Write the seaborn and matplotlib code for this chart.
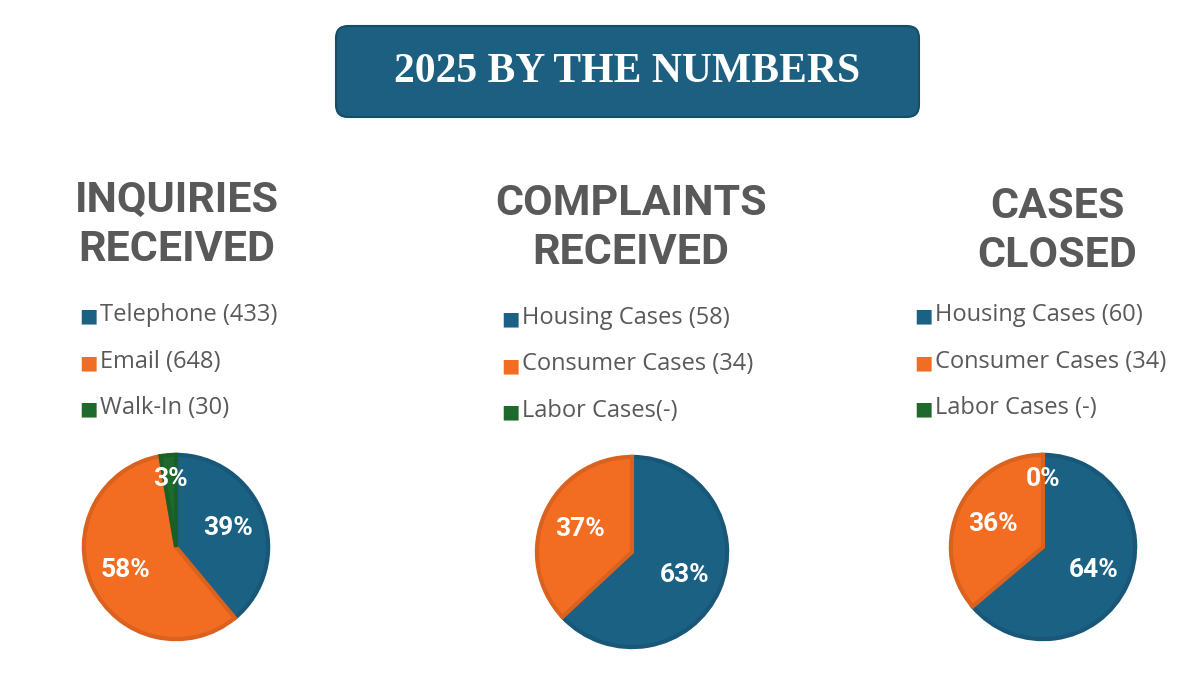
import seaborn as sns
import matplotlib.pyplot as plt
from matplotlib.patches import FancyBboxPatch
from matplotlib.colors import to_rgb

# data
banner = "2025 BY THE NUMBERS"
titles = ["INQUIRIES\nRECEIVED", "COMPLAINTS\nRECEIVED", "CASES\nCLOSED"]
inquiry_labels = ["Telephone (433)", "Email (648)", "Walk-In (30)"]
inquiry_counts = [433, 648, 30]
complaint_labels = ["Housing Cases (58)", "Consumer Cases (34)", "Labor Cases(-)"]
complaint_counts = [58, 34, None]
closed_labels = ["Housing Cases (60)", "Consumer Cases (34)", "Labor Cases (-)"]
closed_counts = [60, 34, 0]

colors = ["#1b6184", "#f26d21", "#1e6a2c"]
box_color = "#1d5f80"
gray = "#595959"

sns.set_theme(style="white")
plt.rcParams['font.family'] = ['Roboto', 'DejaVu Sans']

W, H = 1200, 675
fig = plt.figure(figsize=(12, 6.75), dpi=100)
bg = fig.add_axes([0, 0, 1, 1])
bg.set_xlim(0, W)
bg.set_ylim(H, 0)
bg.axis("off")

# banner
box = FancyBboxPatch((336, 26), 583, 91, boxstyle="round,pad=0,rounding_size=12",
                     facecolor=box_color, edgecolor="#164c66", linewidth=1.5)
bg.add_patch(box)
bg.text(627, 72, banner, ha="center", va="center", color="white", fontsize=30,
        fontweight="bold", family=["Liberation Serif", "DejaVu Serif"])

def darker(c, f=0.9):
    r, g, b = to_rgb(c)
    return (r * f, g * f, b * f)

panels = [
    dict(title=titles[0], tx=177, ty=225, labels=inquiry_labels, counts=inquiry_counts,
         lx=82, ly=315, cx=176, cy=547, r=94),
    dict(title=titles[1], tx=631, ty=228, labels=complaint_labels, counts=complaint_counts,
         lx=504, ly=318, cx=632, cy=552, r=97),
    dict(title=titles[2], tx=1057, ty=231, labels=closed_labels, counts=closed_counts,
         lx=917, ly=315, cx=1043, cy=547, r=94),
]

for p in panels:
    bg.text(p["tx"], p["ty"], p["title"], ha="center", va="center", color=gray,
            fontsize=31, fontweight="bold", linespacing=1.24)
    for i, lab in enumerate(p["labels"]):
        y = p["ly"] + i * 46.5
        bg.text(p["lx"] + 6, y + 1, "\u25a0", ha="center", va="center", color=colors[i],
                fontsize=14, family=["DejaVu Sans"])
        bg.text(p["lx"] + 18, y, lab, ha="left", va="center", color=gray, fontsize=17,
                family=["Open Sans", "DejaVu Sans"])

    vals = [v for v in p["counts"] if v is not None]
    cols = colors[:len(vals)]
    ax = fig.add_axes([(p["cx"] - p["r"]) / W, (H - p["cy"] - p["r"]) / H,
                       2 * p["r"] / W, 2 * p["r"] / H])
    wedges, _, autotexts = ax.pie(vals, colors=cols, startangle=90, counterclock=False,
                                  autopct="%1.0f%%", pctdistance=0.6, radius=1,
                                  wedgeprops=dict(linewidth=3),
                                  textprops=dict(color="white", fontsize=19, fontweight="bold"))
    for w, c, v in zip(wedges, cols, vals):
        w.set_edgecolor(darker(c))
        if v == 0:
            w.set_linewidth(0)
    total = sum(vals)
    for t, v in zip(autotexts, vals):
        if v / total < 0.05:
            x, y = t.get_position()
            s = 0.74 / 0.6
            t.set_position((x * s, y * s))
    ax.set_xlim(-1.02, 1.02)
    ax.set_ylim(-1.02, 1.02)
    ax.set_aspect("equal")

fig.savefig("out.png", dpi=100)
